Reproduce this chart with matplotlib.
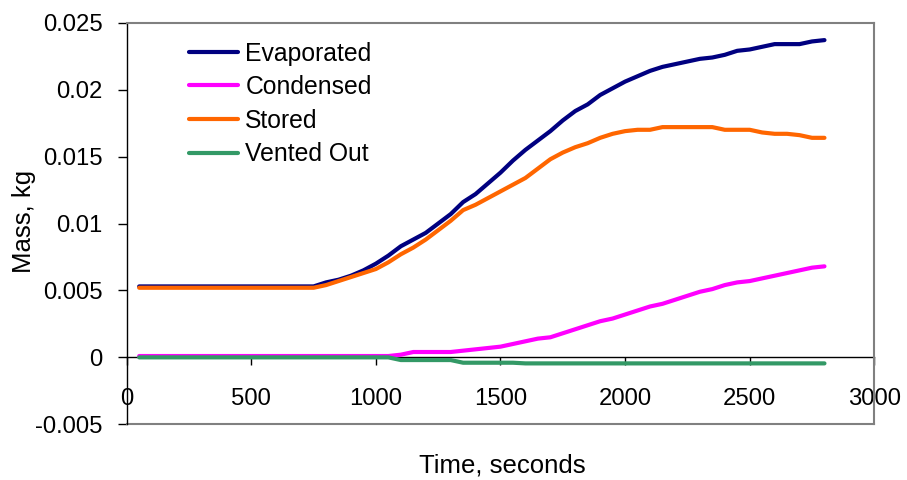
import matplotlib
matplotlib.use("Agg")
import matplotlib.pyplot as plt

plt.rcParams['font.family'] = ['Liberation Sans', 'DejaVu Sans']

time_s = [50, 100, 150, 200, 250, 300, 350, 400, 450, 500, 550, 600, 650, 700, 750,
          800, 850, 900, 950, 1000, 1050, 1100, 1150, 1200, 1250, 1300, 1350, 1400,
          1450, 1500, 1550, 1600, 1650, 1700, 1750, 1800, 1850, 1900, 1950, 2000,
          2050, 2100, 2150, 2200, 2250, 2300, 2350, 2400, 2450, 2500, 2550, 2600,
          2650, 2700, 2750, 2800]

evaporated = [0.0053] * 15 + [
    0.0056, 0.0058, 0.0061, 0.0065, 0.0070, 0.0076, 0.0083, 0.0088, 0.0093, 0.0100,
    0.0107, 0.0116, 0.0122, 0.0130, 0.0138, 0.0147, 0.0155, 0.0162, 0.0169, 0.0177,
    0.0184, 0.0189, 0.0196, 0.0201, 0.0206, 0.0210, 0.0214, 0.0217, 0.0219, 0.0221,
    0.0223, 0.0224, 0.0226, 0.0229, 0.0230, 0.0232, 0.0234, 0.0234, 0.0234, 0.0236,
    0.0237]

stored = [0.0052] * 15 + [
    0.0054, 0.0057, 0.0060, 0.0063, 0.0066, 0.0071, 0.0077, 0.0082, 0.0088, 0.0095,
    0.0102, 0.0110, 0.0114, 0.0119, 0.0124, 0.0129, 0.0134, 0.0141, 0.0148, 0.0153,
    0.0157, 0.0160, 0.0164, 0.0167, 0.0169, 0.0170, 0.0170, 0.0172, 0.0172, 0.0172,
    0.0172, 0.0172, 0.0170, 0.0170, 0.0170, 0.0168, 0.0167, 0.0167, 0.0166, 0.0164,
    0.0164]

condensed = [0.0001] * 21 + [
    0.0002, 0.0004, 0.0004, 0.0004, 0.0004, 0.0005, 0.0006, 0.0007, 0.0008, 0.0010,
    0.0012, 0.0014, 0.0015, 0.0018, 0.0021, 0.0024, 0.0027, 0.0029, 0.0032, 0.0035,
    0.0038, 0.0040, 0.0043, 0.0046, 0.0049, 0.0051, 0.0054, 0.0056, 0.0057, 0.0059,
    0.0061, 0.0063, 0.0065, 0.0067, 0.0068]

vented = [0.0] * 21 + [-0.0002] * 5 + [-0.0004] * 5 + [-0.00045] * 25

series_names = ["Evaporated", "Condensed", "Stored", "Vented Out"]
series_colors = ["#000080", "#FF00FF", "#FF6600", "#339966"]

x_ticks = [0, 500, 1000, 1500, 2000, 2500, 3000]
y_ticks = [-0.005, 0, 0.005, 0.01, 0.015, 0.02, 0.025]
y_tick_labels = ["-0.005", "0", "0.005", "0.01", "0.015", "0.02", "0.025"]

W, H = 907, 480
fig = plt.figure(figsize=(W / 100, H / 100), dpi=100)
L, R, T, B = 126.7, 874.3, 22.7, 424.3
ax = fig.add_axes([L / W, 1 - B / H, (R - L) / W, (B - T) / H])

FS = 17.8
FS_TICK = 17.2
FS_T = 18.5
for name, vals, col in zip(series_names, [evaporated, condensed, stored, vented], series_colors):
    ax.plot(time_s, vals, color=col, lw=3.0, label=name, solid_capstyle='round',
            solid_joinstyle='round')

ax.set_xlim(0, 3000)
ax.set_ylim(-0.005, 0.025)
ax.set_xticks(x_ticks)
ax.set_xticklabels([str(v) for v in x_ticks])
ax.set_yticks(y_ticks)
ax.set_yticklabels(y_tick_labels)

gray = "#808080"
for s in ['top', 'right']:
    ax.spines[s].set_color(gray)
    ax.spines[s].set_linewidth(1.5)
ax.spines['left'].set_color('#000000')
ax.spines['left'].set_linewidth(1.0)
ax.spines['bottom'].set_position(('data', 0))
ax.spines['bottom'].set_color('#000000')
ax.spines['bottom'].set_linewidth(1.0)
ax.spines['bottom'].set_zorder(1)
ax.plot([0, 1], [0, 0], transform=ax.transAxes, color=gray, lw=1.5, clip_on=False)

ax.tick_params(axis='x', direction='out', length=6, width=1, pad=16, labelsize=FS_TICK, colors='#000000')
ax.tick_params(axis='y', direction='out', length=6.5, width=1, pad=11, labelsize=FS_TICK, colors='#000000')

leg = ax.legend(loc='upper left', bbox_to_anchor=(189 / W, 1 - 41.5 / H),
                bbox_transform=fig.transFigure, frameon=False, fontsize=FS,
                handlelength=2.0, handletextpad=0.28, labelspacing=0.39,
                borderpad=0, borderaxespad=0)

fig.text(24.5 / W, 1 - 221.5 / H, "Mass, kg", rotation=90, ha='center', va='center', fontsize=FS_T)
fig.text(502 / W, 1 - 466 / H, "Time, seconds", ha='center', va='center', fontsize=FS_T)

fig.savefig("out.png", dpi=100)
